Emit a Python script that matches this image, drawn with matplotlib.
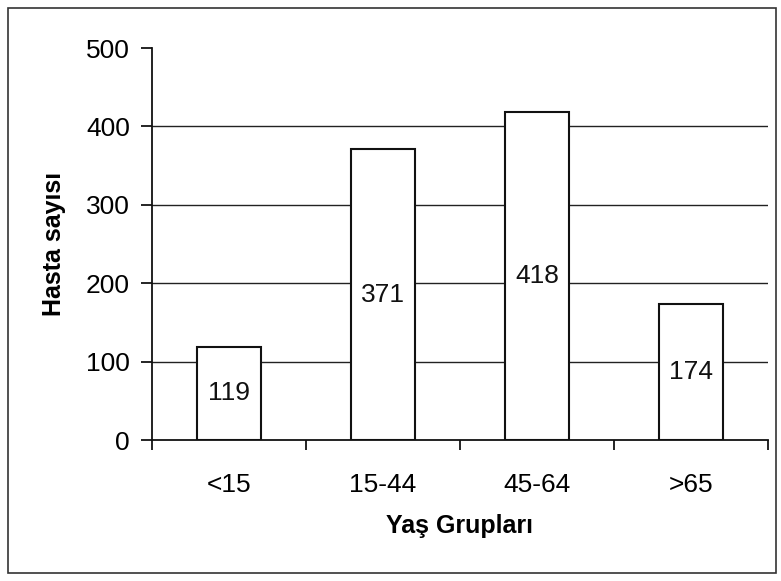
import matplotlib
matplotlib.use("Agg")
import matplotlib.pyplot as plt
from matplotlib.patches import Rectangle

categories = ["<15", "15-44", "45-64", ">65"]
values = [119, 371, 418, 174]
yticks = [0, 100, 200, 300, 400, 500]

plt.rcParams['font.family'] = ['Liberation Sans', 'DejaVu Sans']

W, H = 781, 581
fig = plt.figure(figsize=(W/100, H/100), dpi=100)
fig.patches.append(Rectangle((8/W, 8/H), (776-8)/W, (573-8)/H, transform=fig.transFigure,
                             fill=False, edgecolor='#333333', linewidth=1.2))

ax = fig.add_axes([152/W, (H-440)/H, (768-152)/W, (440-48)/H])
x = list(range(len(categories)))
for yv in yticks[1:-1]:
    ax.axhline(yv, color='#222222', linewidth=1.0, zorder=1)
ax.bar(x, values, width=0.41, color='white', edgecolor='#111111', linewidth=1.5, zorder=2)
for xi, v in zip(x, values):
    ax.text(xi, v/2, str(v), ha='center', va='center', fontsize=19, color='#111111', zorder=3)

ax.set_xlim(-0.5, len(categories)-0.5)
ax.set_ylim(0, 500)
ax.set_yticks(yticks)
ax.set_yticklabels([str(t) for t in yticks], fontsize=19)
ax.set_xticks(x)
ax.set_xticklabels(categories, fontsize=19)
ax.tick_params(axis='x', length=0, pad=24)
ax.set_xticks([i - 0.5 for i in range(len(categories)+1)], minor=True)
ax.tick_params(axis='x', which='minor', length=7, width=1.2, direction='out')
ax.tick_params(axis='y', length=8, width=1.2, direction='out', pad=8)
for s in ['top', 'right']:
    ax.spines[s].set_visible(False)
for s in ['left', 'bottom']:
    ax.spines[s].set_linewidth(1.3)
    ax.spines[s].set_color('#111111')
ax.set_xlabel("Yaş Grupları", fontsize=18, fontweight='bold', labelpad=12)
ax.set_ylabel("Hasta sayısı", fontsize=18, fontweight='bold', labelpad=14)

fig.savefig("out.png", dpi=100)
